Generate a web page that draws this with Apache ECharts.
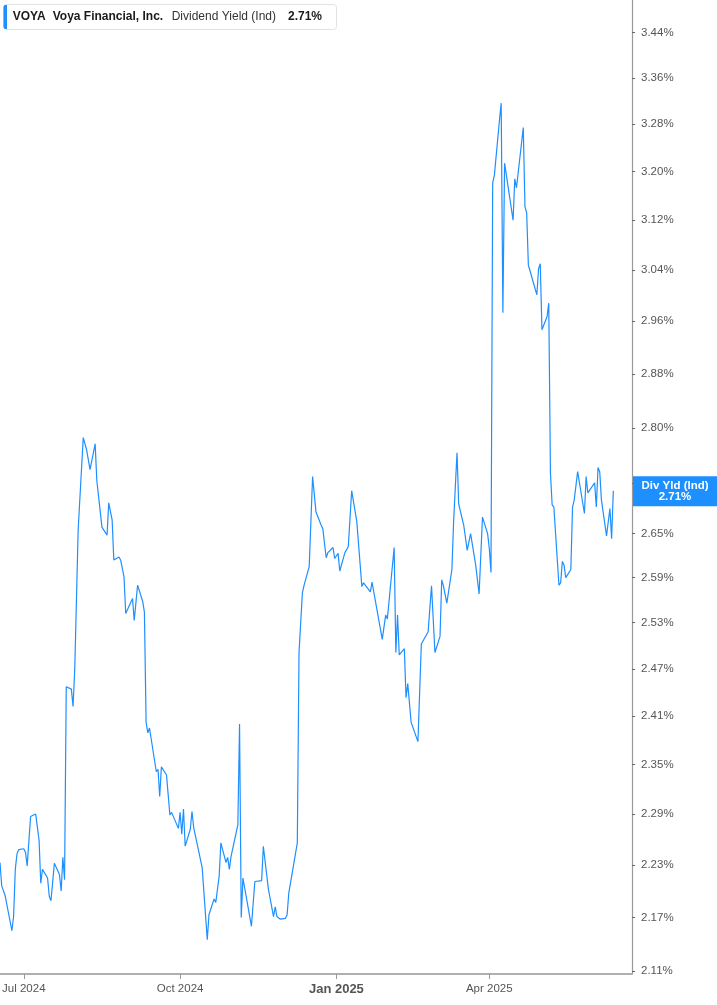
<!DOCTYPE html>
<html><head><meta charset="utf-8">
<script src="https://cdn.jsdelivr.net/npm/echarts@6/dist/echarts.min.js"></script>
<style>html,body{margin:0;padding:0;background:#fff}#c{width:717px;height:1005px}</style>
</head><body><div id="c"></div>
<script>
const dates = [
'2024-06-17','2024-06-18','2024-06-20','2024-06-21','2024-06-24','2024-06-25','2024-06-26','2024-06-27','2024-06-28',
'2024-07-01','2024-07-02','2024-07-03','2024-07-05','2024-07-08','2024-07-10','2024-07-11','2024-07-12','2024-07-15',
'2024-07-16','2024-07-17','2024-07-19','2024-07-22','2024-07-23','2024-07-24','2024-07-25','2024-07-26','2024-07-29',
'2024-07-30','2024-07-31','2024-08-01','2024-08-02','2024-08-05','2024-08-07','2024-08-09','2024-08-12','2024-08-13',
'2024-08-15','2024-08-16','2024-08-19','2024-08-20','2024-08-22','2024-08-23','2024-08-26','2024-08-27','2024-08-29',
'2024-08-30','2024-09-03','2024-09-04','2024-09-05','2024-09-06','2024-09-09','2024-09-10','2024-09-11','2024-09-12',
'2024-09-13','2024-09-17','2024-09-18','2024-09-19','2024-09-20','2024-09-23','2024-09-25','2024-09-26','2024-09-30',
'2024-10-01','2024-10-02','2024-10-03','2024-10-04','2024-10-07','2024-10-08','2024-10-09','2024-10-10','2024-10-14',
'2024-10-17','2024-10-18','2024-10-21','2024-10-22','2024-10-24','2024-10-25','2024-10-28','2024-10-29','2024-10-30',
'2024-10-31','2024-11-04','2024-11-05','2024-11-06','2024-11-07','2024-11-08','2024-11-12','2024-11-14','2024-11-15',
'2024-11-18','2024-11-19','2024-11-20','2024-11-22','2024-11-25','2024-11-26','2024-11-27','2024-11-29','2024-12-02',
'2024-12-03','2024-12-04','2024-12-05','2024-12-06','2024-12-09','2024-12-10','2024-12-12','2024-12-13','2024-12-16',
'2024-12-18','2024-12-20','2024-12-23','2024-12-24','2024-12-26','2024-12-27','2024-12-30','2024-12-31','2025-01-02',
'2025-01-03','2025-01-06','2025-01-08','2025-01-10','2025-01-13','2025-01-16','2025-01-17','2025-01-21','2025-01-22',
'2025-01-23','2025-01-24','2025-01-28','2025-01-29','2025-01-30','2025-01-31','2025-02-04','2025-02-05','2025-02-06',
'2025-02-07','2025-02-10','2025-02-11','2025-02-12','2025-02-14','2025-02-18','2025-02-20','2025-02-24','2025-02-26',
'2025-02-28','2025-03-03','2025-03-04','2025-03-05','2025-03-07','2025-03-10','2025-03-11','2025-03-13','2025-03-14',
'2025-03-17','2025-03-19','2025-03-21','2025-03-24','2025-03-26','2025-03-28','2025-03-31','2025-04-01','2025-04-02',
'2025-04-03','2025-04-04','2025-04-07','2025-04-08','2025-04-09','2025-04-10','2025-04-15','2025-04-16','2025-04-17',
'2025-04-21','2025-04-22','2025-04-23','2025-04-24','2025-04-25','2025-04-29','2025-04-30','2025-05-01','2025-05-02',
'2025-05-05','2025-05-06','2025-05-07','2025-05-08','2025-05-09','2025-05-12','2025-05-13','2025-05-14','2025-05-15',
'2025-05-16','2025-05-19','2025-05-20','2025-05-21','2025-05-23','2025-05-27','2025-05-28','2025-05-29','2025-05-30',
'2025-06-02','2025-06-03','2025-06-04','2025-06-05','2025-06-06','2025-06-09','2025-06-10','2025-06-11','2025-06-12',
'2025-06-13'
];
const yields = [
2.233,2.206,2.195,2.194,2.155,2.171,2.225,2.243,2.248,
2.249,2.245,2.229,2.287,2.290,2.259,2.209,2.225,2.215,
2.194,2.189,2.232,2.219,2.200,2.239,2.213,2.447,2.444,
2.422,2.470,2.560,2.655,2.786,2.768,2.740,2.777,2.724,
2.681,2.659,2.648,2.693,2.669,2.614,2.618,2.614,2.591,
2.542,2.562,2.533,2.532,2.580,2.558,2.544,2.402,2.389,
2.395,2.341,2.344,2.311,2.347,2.337,2.289,2.292,2.273,
2.292,2.266,2.296,2.252,2.272,2.293,2.274,2.274,2.227,
2.145,2.173,2.191,2.187,2.217,2.256,2.233,2.239,2.225,
2.240,2.277,2.400,2.170,2.215,2.214,2.160,2.211,2.210,
2.212,2.252,2.252,2.202,2.171,2.182,2.171,2.168,2.169,
2.173,2.198,2.196,2.221,2.256,2.491,2.570,2.580,2.605,
2.730,2.680,2.662,2.657,2.617,2.624,2.631,2.616,2.623,
2.599,2.624,2.632,2.710,2.667,2.578,2.583,2.571,2.584,
2.571,2.570,2.508,2.506,2.540,2.535,2.631,2.491,2.540,
2.488,2.496,2.433,2.451,2.402,2.378,2.502,2.518,2.579,
2.491,2.512,2.587,2.579,2.556,2.601,2.667,2.764,2.691,
2.661,2.627,2.650,2.607,2.568,2.673,2.650,2.630,2.597,
3.181,3.194,3.287,3.316,2.973,3.214,3.120,3.188,3.173,
3.274,3.142,3.132,3.048,3.046,3.001,3.042,3.050,2.947,
2.967,2.988,2.735,2.690,2.687,2.580,2.583,2.612,2.607,
2.590,2.601,2.687,2.697,2.737,2.678,2.730,2.707,2.706,
2.721,2.687,2.743,2.737,2.697,2.647,2.646,2.685,2.643,
2.710
];
const yTicks = [2.11,2.17,2.23,2.29,2.35,2.41,2.47,2.53,2.59,2.65,2.72,2.80,2.88,2.96,3.04,3.12,3.20,3.28,3.36,3.44];
const xTicks = ['2024-07-01','2024-10-01','2025-01-01','2025-04-01'];
const xRange = ['2024-06-17','2025-06-24'];
const yRange = [2.107, 3.499];
const lastValue = 2.71;
const ticker = 'VOYA';
const company = 'Voya Financial, Inc.';
const metric = 'Dividend Yield (Ind)';
const tagLabel = 'Div Yld (Ind)';
const MONTHS = ['Jan','Feb','Mar','Apr','May','Jun','Jul','Aug','Sep','Oct','Nov','Dec'];

function ts(s) { const p = s.split('-'); return Date.UTC(+p[0], +p[1] - 1, +p[2]); }

const FONT = '"Liberation Sans", Arial, Helvetica, sans-serif';
const BLUE = '#1e8fff';
const chart = echarts.init(document.getElementById('c'), null, {renderer: 'canvas'});
chart.setOption({
  animation: false,
  grid: {left: 0, right: 85, top: 0, bottom: 31, containLabel: false, outerBoundsMode: 'none'},
  xAxis: {
    type: 'value', min: ts(xRange[0]), max: ts(xRange[1]),
    axisLine: {show: true, lineStyle: {color: '#b0b0b0', width: 2}},
    axisTick: {show: true, customValues: xTicks.map(ts), length: 5, lineStyle: {color: '#999', width: 1}},
    axisLabel: {
      customValues: xTicks.map(ts), margin: 9, color: '#555', fontSize: 11.5, fontFamily: FONT,
      formatter: function (v) {
        const d = new Date(v);
        const s = MONTHS[d.getUTCMonth()] + ' ' + d.getUTCFullYear();
        return d.getUTCMonth() === 0 ? '{b|' + s + '}' : s;
      },
      rich: {b: {fontWeight: 'bold', fontSize: 13, color: '#555', fontFamily: FONT}}
    },
    splitLine: {show: false}
  },
  yAxis: {
    type: 'value', position: 'right',
    min: Math.log(yRange[0]), max: Math.log(yRange[1]),
    axisLine: {show: true, lineStyle: {color: '#999', width: 1.2}},
    axisTick: {show: true, customValues: yTicks.map(Math.log), length: 3, lineStyle: {color: '#666'}},
    axisLabel: {
      customValues: yTicks.map(Math.log), margin: 9, color: '#555', fontSize: 11.5, fontFamily: FONT,
      formatter: function (v) { return Math.exp(v).toFixed(2) + '%'; }
    },
    splitLine: {show: false}
  },
  series: [{
    type: 'line', silent: true, showSymbol: false, symbol: 'none',
    data: dates.map(function (d, i) { return [ts(d), Math.log(yields[i])]; }),
    lineStyle: {color: BLUE, width: 1.2},
    markLine: {
      silent: true, symbol: ['none', 'none'], animation: false, z: 20,
      lineStyle: {color: 'rgba(255,255,255,0)', width: 0, type: 'solid'},
      emphasis: {disabled: true},
      data: [{yAxis: Math.log(lastValue)}],
      label: {
        show: true, position: 'end', distance: 1, offset: [0, 6.5],
        formatter: '{t|' + tagLabel + '}\n{t|' + lastValue.toFixed(2) + '%}',
        backgroundColor: BLUE, padding: [4, 0, 4, 0], opacity: 1,
        rich: {t: {color: '#fff', fontWeight: 'bold', fontSize: 11.5, fontFamily: FONT, width: 84, align: 'center', lineHeight: 11}}
      }
    }
  }],
  graphic: [
    {type: 'rect', x: 3.5, y: 4.5, shape: {x: 0, y: 0, width: 333, height: 25, r: 3}, style: {fill: '#fff', stroke: '#e2e2e2', lineWidth: 1}, z: 10},
    {type: 'rect', x: 3.5, y: 5, shape: {x: 0, y: 0, width: 3.5, height: 24, r: [2, 0, 0, 2]}, style: {fill: BLUE}, z: 11},
    {type: 'text', x: 12.7, y: 17, style: {text: ticker, font: 'bold 12px ' + FONT, fill: '#1a1a1a', textVerticalAlign: 'middle'}, z: 11},
    {type: 'text', x: 52.7, y: 17, style: {text: company, font: 'bold 12px ' + FONT, fill: '#1a1a1a', textVerticalAlign: 'middle'}, z: 11},
    {type: 'text', x: 171.7, y: 17, style: {text: metric, font: '12px ' + FONT, fill: '#333', textVerticalAlign: 'middle'}, z: 11},
    {type: 'text', x: 288, y: 17, style: {text: lastValue.toFixed(2) + '%', font: 'bold 12px ' + FONT, fill: '#1a1a1a', textVerticalAlign: 'middle'}, z: 11}
  ]
});
</script>
</body></html>
